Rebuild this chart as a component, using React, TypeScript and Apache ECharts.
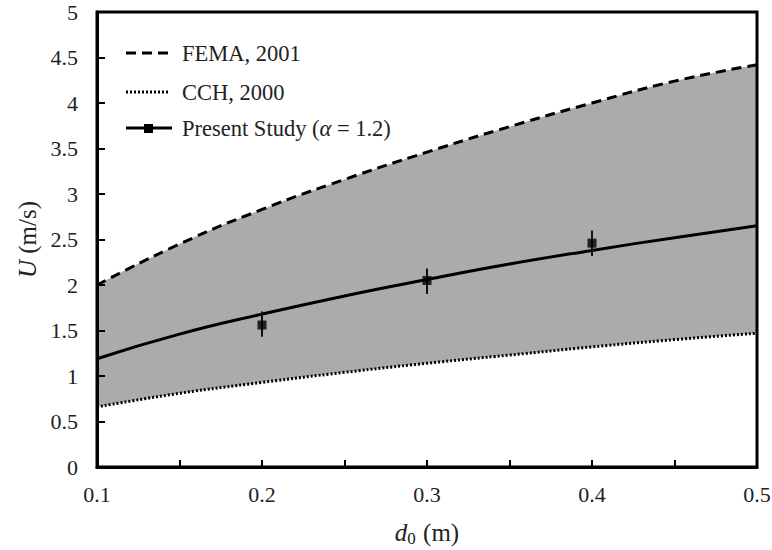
import React, { useEffect, useRef } from "react";
import * as echarts from "echarts";

const xValues = [0.1, 0.15, 0.2, 0.25, 0.3, 0.35, 0.4, 0.45, 0.5];
const femaValues = [2.0, 2.45, 2.83, 3.16, 3.46, 3.74, 4.0, 4.24, 4.42];
const cchValues = [0.66, 0.81, 0.93, 1.04, 1.14, 1.23, 1.32, 1.4, 1.47];
const presentValues = [1.19, 1.46, 1.68, 1.88, 2.06, 2.23, 2.38, 2.52, 2.65];
const obsX = [0.2, 0.3, 0.4];
const obsY = [1.56, 2.05, 2.46];
const obsLow = [1.43, 1.9, 2.32];
const obsHigh = [1.71, 2.18, 2.6];

const FONT = "Liberation Serif";

export default function App() {
  const ref = useRef<HTMLDivElement>(null);
  useEffect(() => {
    if (!ref.current) return;
    const chart = echarts.init(ref.current, null, { renderer: "svg" });
    const pair = (ys: number[]) => xValues.map((x, i) => [x, ys[i]]);
    const option: any = {
      animation: false,
      backgroundColor: "#ffffff",
      textStyle: { fontFamily: FONT },
      grid: {
        left: 97,
        right: 15,
        top: 12,
        bottom: 83,
        containLabel: false,
        outerBoundsMode: "none",
        show: true,
        borderColor: "#000",
        borderWidth: 3,
        backgroundColor: "transparent",
        z: 6,
      },
      xAxis: {
        type: "value",
        min: 0.1,
        max: 0.5,
        interval: 0.05,
        z: 5,
        axisLine: { show: true, lineStyle: { color: "#000", width: 3 } },
        axisTick: { show: true, inside: true, length: 7, lineStyle: { color: "#000", width: 2 } },
        splitLine: { show: false },
        axisLabel: {
          margin: 16,
          fontFamily: FONT,
          fontSize: 22,
          color: "#222",
          formatter: (v: number) => {
            const k = Math.round(v * 100);
            return k % 10 === 0 ? (k / 100).toFixed(1) : "";
          },
        },
        name: "{i|d}{s|0}{n| (m)}",
        nameLocation: "middle",
        nameGap: 51,
        nameTextStyle: {
          fontFamily: FONT,
          fontSize: 25,
          color: "#222",
          rich: {
            i: { fontFamily: FONT, fontSize: 25, fontStyle: "italic", color: "#222" },
            s: { fontFamily: FONT, fontSize: 17, color: "#222", padding: [12, 1, 0, 0] },
            n: { fontFamily: FONT, fontSize: 25, color: "#222" },
          },
        },
      },
      yAxis: {
        type: "value",
        min: 0,
        max: 5,
        interval: 0.5,
        z: 5,
        axisLine: { show: true, lineStyle: { color: "#000", width: 3 } },
        axisTick: { show: true, inside: true, length: 8, lineStyle: { color: "#000", width: 2 } },
        splitLine: { show: false },
        axisLabel: {
          margin: 19,
          fontFamily: FONT,
          fontSize: 22,
          color: "#222",
          formatter: (v: number) => String(Math.round(v * 10) / 10),
        },
        name: "{i|U}{n| (m/s)}",
        nameLocation: "middle",
        nameGap: 57,
        nameTextStyle: {
          fontFamily: FONT,
          fontSize: 25,
          color: "#222",
          rich: {
            i: { fontFamily: FONT, fontSize: 25, fontStyle: "italic", color: "#222" },
            n: { fontFamily: FONT, fontSize: 25, color: "#222" },
          },
        },
      },
      series: [
        {
          name: "bandTop",
          type: "line",
          data: pair(femaValues),
          smooth: true,
          showSymbol: false,
          lineStyle: { opacity: 0 },
          areaStyle: { color: "#ababab", opacity: 1, origin: "start" },
          z: 1,
        },
        {
          name: "bandBottom",
          type: "line",
          data: pair(cchValues),
          smooth: true,
          showSymbol: false,
          lineStyle: { opacity: 0 },
          areaStyle: { color: "#ffffff", opacity: 1, origin: "start" },
          z: 1,
        },
        {
          name: "FEMA, 2001",
          type: "line",
          data: pair(femaValues),
          smooth: true,
          showSymbol: false,
          lineStyle: { color: "#000", width: 3, type: [10, 6] },
          z: 3,
        },
        {
          name: "CCH, 2000",
          type: "line",
          data: pair(cchValues),
          smooth: true,
          showSymbol: false,
          lineStyle: { color: "#000", width: 3, type: [2, 2] },
          z: 3,
        },
        {
          name: "Present Study",
          type: "line",
          data: pair(presentValues),
          smooth: true,
          showSymbol: false,
          lineStyle: { color: "#000", width: 3 },
          z: 3,
        },
        {
          name: "errors",
          type: "custom",
          data: obsX.map((x, i) => [x, obsLow[i], obsHigh[i]]),
          renderItem: (params: any, api: any) => {
            const p1 = api.coord([api.value(0), api.value(1)]);
            const p2 = api.coord([api.value(0), api.value(2)]);
            return {
              type: "line",
              shape: { x1: p1[0], y1: p1[1], x2: p2[0], y2: p2[1] },
              style: { stroke: "#111", lineWidth: 2 },
            };
          },
          z: 4,
        },
        {
          name: "obs",
          type: "scatter",
          data: obsX.map((x, i) => [x, obsY[i]]),
          symbol: "rect",
          symbolSize: 9,
          itemStyle: { color: "#000" },
          z: 5,
        },
      ],
      graphic: [
        { type: "line", shape: { x1: 126, y1: 53, x2: 170, y2: 53 }, style: { stroke: "#000", lineWidth: 3, lineDash: [10, 6] } },
        { type: "text", x: 182, y: 53, style: { text: "FEMA, 2001", fontFamily: FONT, fontSize: 22.5, fill: "#222", verticalAlign: "middle" } },
        { type: "line", shape: { x1: 126, y1: 92, x2: 170, y2: 92 }, style: { stroke: "#000", lineWidth: 3, lineDash: [2, 2] } },
        { type: "text", x: 182, y: 92, style: { text: "CCH, 2000", fontFamily: FONT, fontSize: 22.5, fill: "#222", verticalAlign: "middle" } },
        { type: "line", shape: { x1: 126, y1: 128, x2: 172, y2: 128 }, style: { stroke: "#000", lineWidth: 3 } },
        { type: "rect", shape: { x: 144, y: 124, width: 9, height: 9 }, style: { fill: "#000" } },
        {
          type: "text",
          x: 182,
          y: 128,
          style: {
            text: "Present Study ({a|α} = 1.2)",
            fontFamily: FONT,
            fontSize: 22.5,
            fill: "#222",
            verticalAlign: "middle",
            rich: { a: { fontFamily: FONT, fontSize: 22.5, fontStyle: "italic", fill: "#222" } },
          },
        },
      ],
    };
    chart.setOption(option);
    return () => chart.dispose();
  }, []);
  return (
    <div
      ref={ref}
      style={{ position: "absolute", left: 0, top: 0, width: 772, height: 550 }}
    />
  );
}
